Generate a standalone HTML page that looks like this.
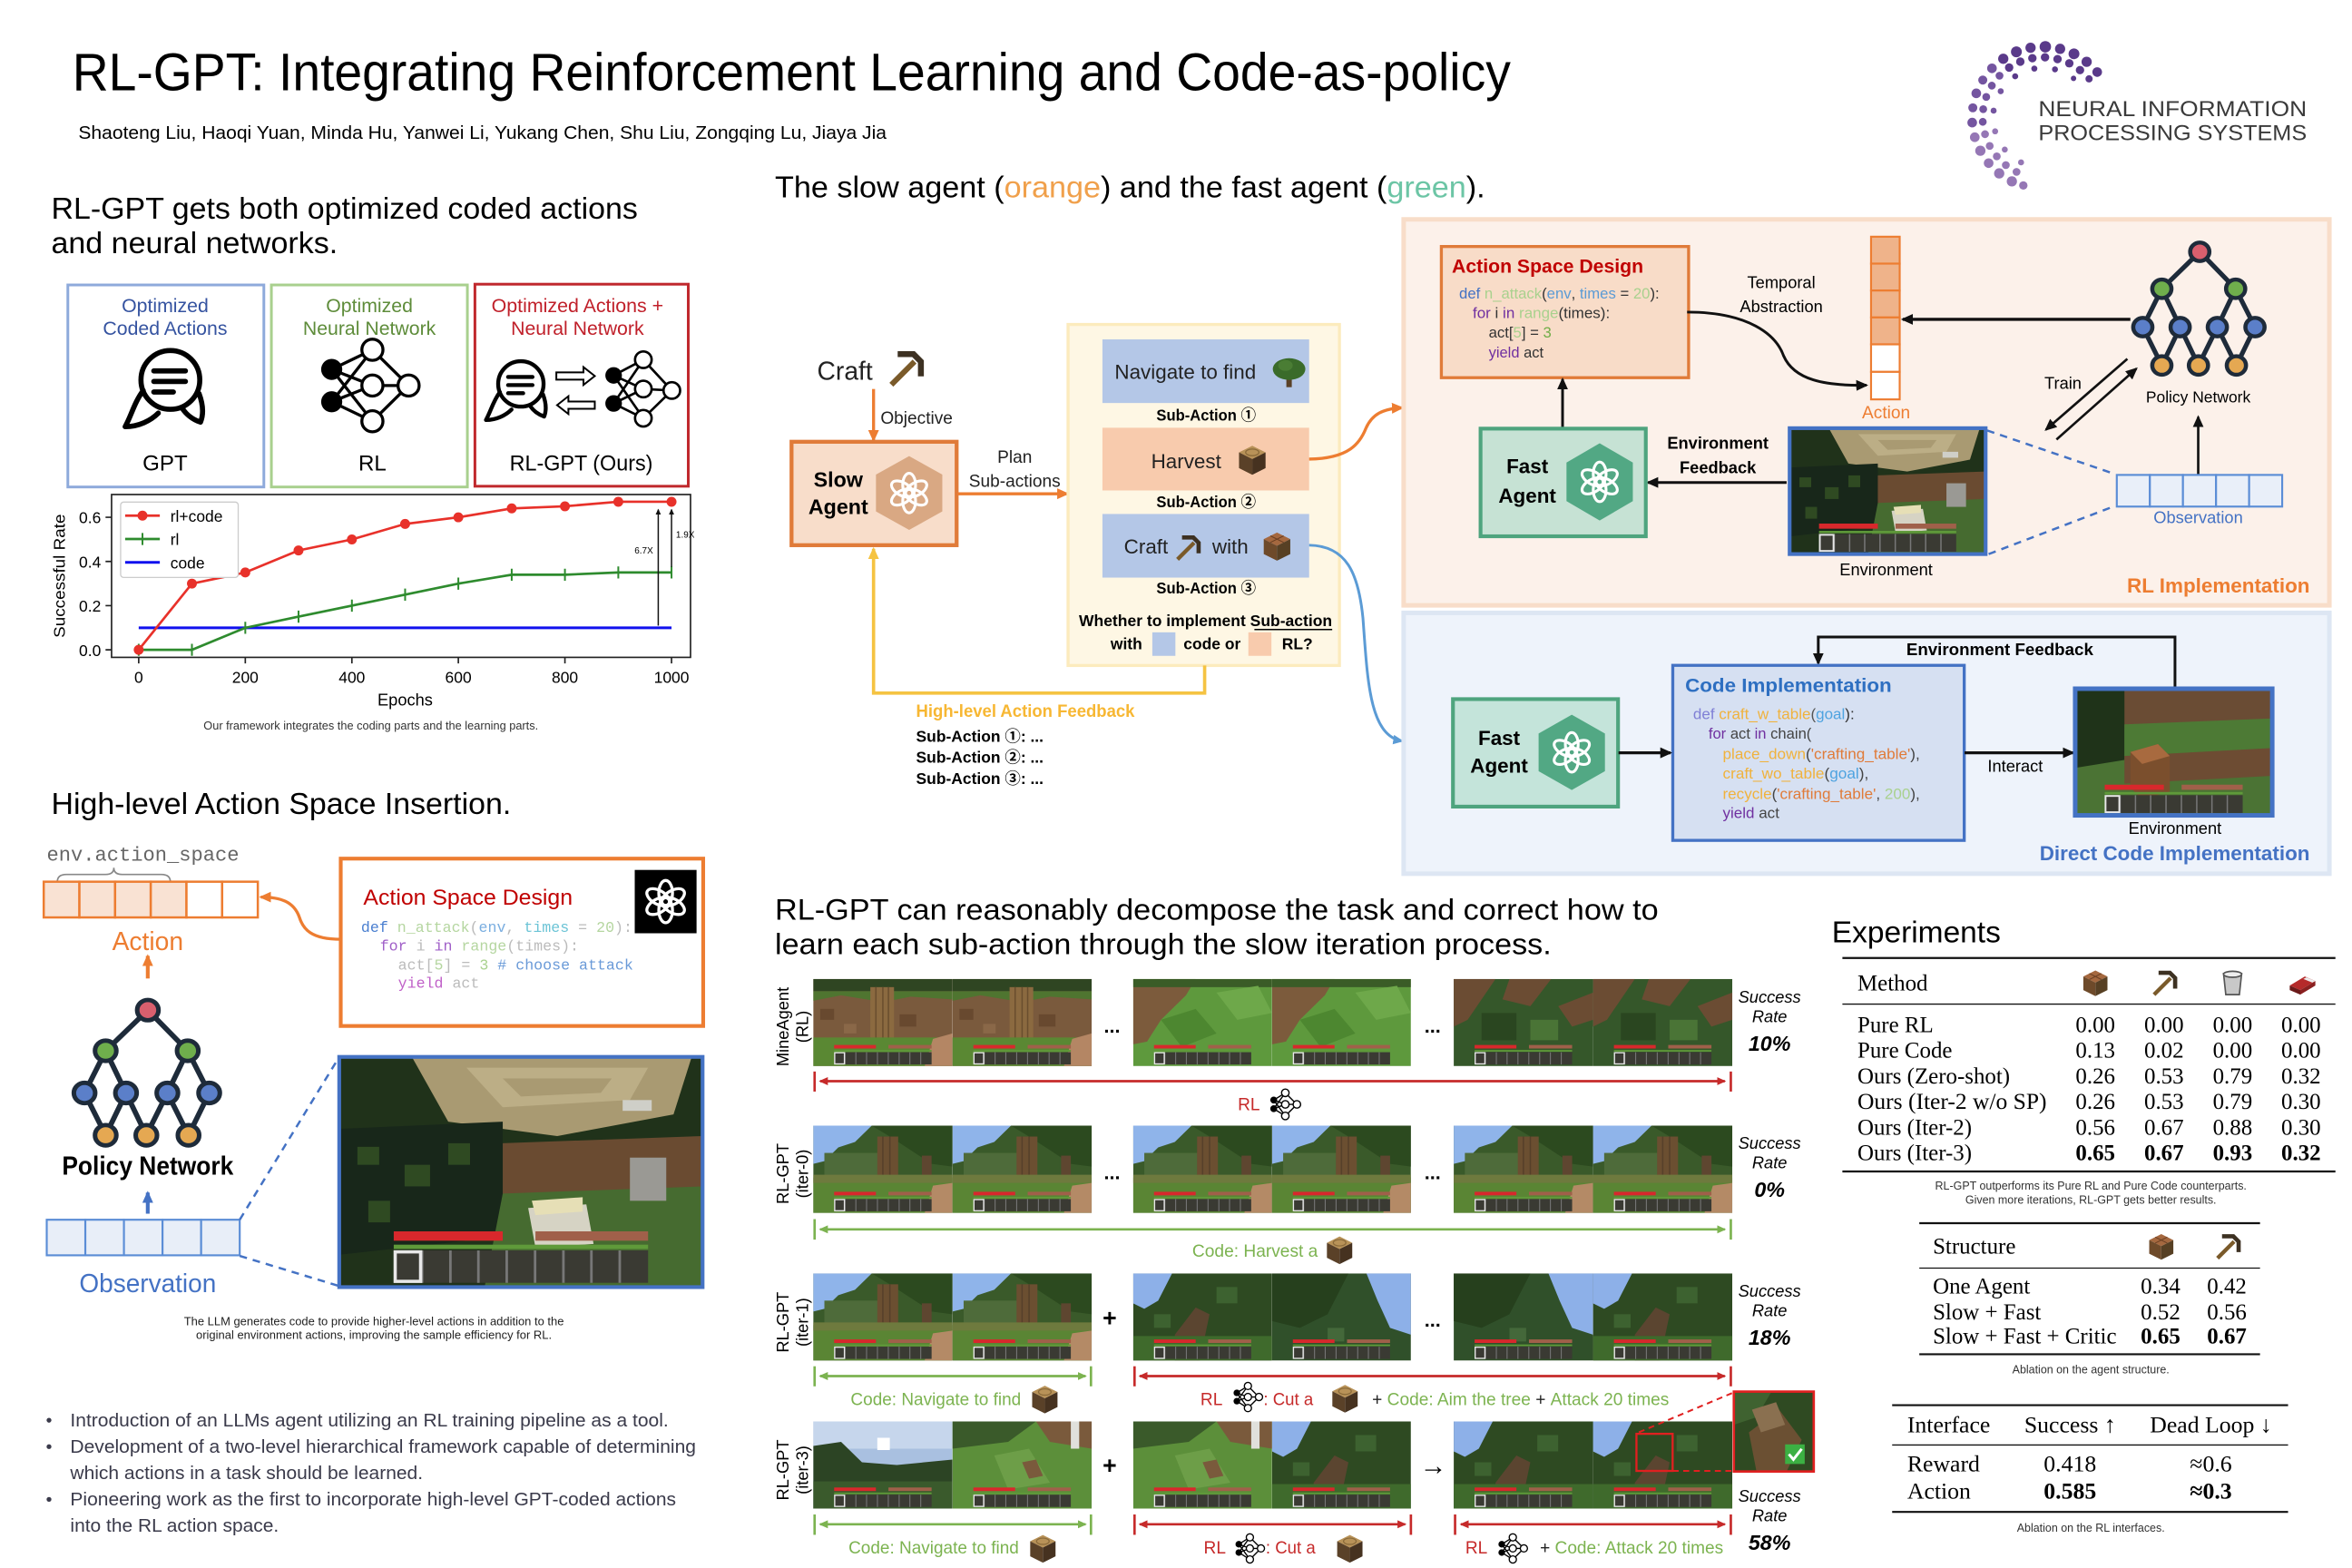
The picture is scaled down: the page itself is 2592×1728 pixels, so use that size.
<!DOCTYPE html>
<html><head><meta charset="utf-8">
<style>
html,body{margin:0;padding:0;background:#fff;width:2592px;height:1728px;overflow:hidden}
svg{display:block}
text{font-family:"Liberation Sans",Arial,"DejaVu Sans",sans-serif}
text.se,.se text{font-family:"Liberation Serif","Times New Roman",serif}
text.mo,.mo text{font-family:"Liberation Mono","DejaVu Sans Mono",monospace}
text.cj,.cj text{font-family:"Liberation Sans","Noto Sans CJK SC",sans-serif}
</style></head><body>
<svg width="2592" height="1728" viewBox="0 0 1560 1040" xmlns="http://www.w3.org/2000/svg">
<defs>
<marker id="ak" viewBox="0 0 10 10" refX="8.5" refY="5" markerWidth="8" markerHeight="8" markerUnits="userSpaceOnUse" orient="auto-start-reverse"><path d="M0,0.5 L10,5 L0,9.5 z" fill="#111"/></marker>
<marker id="as" viewBox="0 0 10 10" refX="8.5" refY="5" markerWidth="4" markerHeight="4" markerUnits="userSpaceOnUse" orient="auto-start-reverse"><path d="M0,0.5 L10,5 L0,9.5 z" fill="#111"/></marker>
<marker id="ao" viewBox="0 0 10 10" refX="8.5" refY="5" markerWidth="8" markerHeight="8" markerUnits="userSpaceOnUse" orient="auto-start-reverse"><path d="M0,0.5 L10,5 L0,9.5 z" fill="#ed7d31"/></marker>
<marker id="ay" viewBox="0 0 10 10" refX="8.5" refY="5" markerWidth="8" markerHeight="8" markerUnits="userSpaceOnUse" orient="auto-start-reverse"><path d="M0,0.5 L10,5 L0,9.5 z" fill="#f5c342"/></marker>
<marker id="abl" viewBox="0 0 10 10" refX="8.5" refY="5" markerWidth="7" markerHeight="7" markerUnits="userSpaceOnUse" orient="auto-start-reverse"><path d="M0,0.5 L10,5 L0,9.5 z" fill="#5b9bd5"/></marker>
<marker id="ab2" viewBox="0 0 10 10" refX="8.5" refY="5" markerWidth="8" markerHeight="8" markerUnits="userSpaceOnUse" orient="auto-start-reverse"><path d="M0,0.5 L10,5 L0,9.5 z" fill="#4472c4"/></marker>
<marker id="ar" viewBox="0 0 10 10" refX="8.5" refY="5" markerWidth="6" markerHeight="6" markerUnits="userSpaceOnUse" orient="auto-start-reverse"><path d="M0,0.5 L10,5 L0,9.5 z" fill="#c62a2a"/></marker>
<marker id="ag" viewBox="0 0 10 10" refX="8.5" refY="5" markerWidth="6" markerHeight="6" markerUnits="userSpaceOnUse" orient="auto-start-reverse"><path d="M0,0.5 L10,5 L0,9.5 z" fill="#7cb350"/></marker>

<symbol id="oai" viewBox="-12 -12 24 24">
<g fill="none" stroke="#fff" stroke-width="1.5">
<ellipse cx="0" cy="-4.3" rx="3.4" ry="6.2"/>
<ellipse cx="0" cy="-4.3" rx="3.4" ry="6.2" transform="rotate(60)"/>
<ellipse cx="0" cy="-4.3" rx="3.4" ry="6.2" transform="rotate(120)"/>
<ellipse cx="0" cy="-4.3" rx="3.4" ry="6.2" transform="rotate(180)"/>
<ellipse cx="0" cy="-4.3" rx="3.4" ry="6.2" transform="rotate(240)"/>
<ellipse cx="0" cy="-4.3" rx="3.4" ry="6.2" transform="rotate(300)"/>
</g></symbol>

<symbol id="nn" viewBox="0 0 24 24">
<path d="M4,9 L12,4 M4,9 L12,12 M4,9 L12,20 M4,15 L12,4 M4,15 L12,12 M4,15 L12,20 M12,4 L20,12 M12,12 L20,12 M12,20 L20,12" stroke="#000" stroke-width="0.9" fill="none"/>
<circle cx="4" cy="9" r="2.4" fill="#000"/><circle cx="4" cy="15" r="2.4" fill="#000"/>
<circle cx="12" cy="4" r="2.6" fill="#fff" stroke="#000" stroke-width=".9"/>
<circle cx="12" cy="12" r="2.6" fill="#fff" stroke="#000" stroke-width=".9"/>
<circle cx="12" cy="20" r="2.6" fill="#fff" stroke="#000" stroke-width=".9"/>
<circle cx="20" cy="12" r="2.6" fill="#fff" stroke="#000" stroke-width=".9"/>
</symbol>

<symbol id="chat" viewBox="0 0 57 58">
<g fill="none" stroke="#000" stroke-width="3.4" stroke-linecap="round" stroke-linejoin="round">
<circle cx="33" cy="24" r="19.5"/>
<path d="M15,31 C9,39 7,48 3,55 C12,55 20,51 25,46"/>
<path d="M52,33 C55,41 55,47 53,52 C47,50 43,46 41,43"/>
<path d="M22,18 H43 M22,25 H43 M22,32 H35"/>
</g></symbol>

<symbol id="pick" viewBox="0 0 20 20">
<path d="M3,18 L14,7" stroke="#7a5a2a" stroke-width="2.6"/>
<path d="M6,3.5 H13.5 L17,7 V14" fill="none" stroke="#3d3122" stroke-width="2.8"/>
</symbol>
<symbol id="log" viewBox="0 0 20 20">
<polygon points="10,1.5 18,5.5 10,9.5 2,5.5" fill="#b89258"/>
<ellipse cx="10" cy="5.5" rx="4" ry="2" fill="none" stroke="#8a6a3a" stroke-width=".7"/>
<polygon points="2,5.5 10,9.5 10,19 2,15" fill="#5a4128"/>
<polygon points="10,9.5 18,5.5 18,15 10,19" fill="#463220"/>
</symbol>
<symbol id="tbl" viewBox="0 0 20 20">
<polygon points="10,2 18,6 10,10 2,6" fill="#a5683f"/>
<path d="M6,4 L14,8 M14,4 L6,8" stroke="#6b3f22" stroke-width=".6"/>
<polygon points="2,6 10,10 10,19 2,15" fill="#6e4a2a"/>
<polygon points="10,10 18,6 18,15 10,19" fill="#574024"/>
</symbol>
<symbol id="tree" viewBox="0 0 20 20">
<rect x="8.5" y="12" width="3" height="7" fill="#5a4128"/>
<ellipse cx="10" cy="9" rx="9" ry="6" fill="#3a6b2a"/>
<ellipse cx="8" cy="7" rx="4" ry="3" fill="#4a7d34"/>
</symbol>
<symbol id="bkt" viewBox="0 0 20 20">
<path d="M4,4 H16 L14.5,18 H5.5z" fill="#c8c8c8" stroke="#555" stroke-width="1"/>
<ellipse cx="10" cy="4.5" rx="6" ry="2" fill="#eee" stroke="#555" stroke-width="1"/>
</symbol>
<symbol id="bed" viewBox="0 0 20 20">
<polygon points="2,12 12,6 19,9 9,15" fill="#b52a2a"/>
<polygon points="13,6.6 19,9 17,10 11,7.6" fill="#eee"/>
<polygon points="2,12 9,15 9,18 2,15" fill="#6b1a1a"/>
<polygon points="9,15 19,9 19,12 9,18" fill="#8a2020"/>
</symbol>

<symbol id="pn" viewBox="0 0 100 100" preserveAspectRatio="none">
<path d="M50.6,10 L24.9,36 M50.6,10 L74.9,36 M24.9,36 L12,63 M24.9,36 L37.3,63 M74.9,36 L62.5,63 M74.9,36 L88,63 M12,63 L24.9,90 M37.3,63 L24.9,90 M37.3,63 L49.7,90 M62.5,63 L49.7,90 M62.5,63 L75.4,90 M88,63 L75.4,90" stroke="#1e2b3a" stroke-width="3.2" fill="none"/>
<g stroke="#1e2b3a" stroke-width="2.8">
<circle cx="50.6" cy="10" r="6.5" fill="#d95f6e"/>
<circle cx="24.9" cy="36" r="6.5" fill="#6fae4c"/><circle cx="74.9" cy="36" r="6.5" fill="#6fae4c"/>
<circle cx="12" cy="63" r="6.5" fill="#5b7fc9"/><circle cx="37.3" cy="63" r="6.5" fill="#5b7fc9"/><circle cx="62.5" cy="63" r="6.5" fill="#5b7fc9"/><circle cx="88" cy="63" r="6.5" fill="#5b7fc9"/>
<circle cx="24.9" cy="90" r="6.5" fill="#e5a852"/><circle cx="49.7" cy="90" r="6.5" fill="#e5a852"/><circle cx="75.4" cy="90" r="6.5" fill="#e5a852"/>
</g></symbol>

<symbol id="hb" viewBox="0 0 100 64" preserveAspectRatio="none">
<rect x="15" y="48.5" width="30" height="2.6" fill="#d8282c"/>
<rect x="54" y="48.5" width="31" height="2.6" fill="#a0604a"/>
<rect x="15" y="52.2" width="70" height="1.2" fill="#5f9a3a"/>
<rect x="15" y="53.8" width="70" height="9" fill="#3a3a33"/>
<path d="M22.8,53.8V62.8M30.6,53.8V62.8M38.3,53.8V62.8M46.1,53.8V62.8M53.9,53.8V62.8M61.7,53.8V62.8M69.4,53.8V62.8M77.2,53.8V62.8" stroke="#777" stroke-width=".7"/>
<rect x="15.4" y="54.2" width="7" height="8.2" fill="none" stroke="#e8e8e8" stroke-width=".9"/>
</symbol>

<symbol id="s_dirt" viewBox="0 0 100 64" preserveAspectRatio="none">
<rect width="100" height="64" fill="#7a5a3d"/>
<rect width="100" height="9" fill="#2f4522"/>
<path d="M0,9 L100,9 L100,15 L70,13 L50,17 L20,12 L0,16z" fill="#4f7530"/>
<rect x="5" y="22" width="10" height="8" fill="#68492f"/>
<rect x="62" y="26" width="12" height="9" fill="#68492f"/>
<rect x="22" y="33" width="9" height="7" fill="#8a6848"/>
<rect x="41" y="6" width="17" height="42" fill="#8b6a40"/>
<path d="M45,6V48M50,6V48M54,6V48" stroke="#6a4e2e" stroke-width="1"/>
<rect x="0" y="43" width="100" height="21" fill="#5a8833"/>
<path d="M80,64 L86,44 L100,40 L100,64z" fill="#b48664"/>
<use href="#hb" width="100" height="64"/>
</symbol>
<symbol id="s_grass" viewBox="0 0 100 64" preserveAspectRatio="none">
<rect width="100" height="64" fill="#5e993d"/>
<path d="M0,0 H45 L38,12 L20,30 L10,46 L0,48z" fill="#7c5b3c"/>
<path d="M0,0 H100 V6 H0z" fill="#3a5c27"/>
<path d="M20,30 L45,22 L60,40 L35,50z" fill="#4d8730"/>
<path d="M60,10 L90,5 L100,25 L75,30z" fill="#6ea84a"/>
<use href="#hb" width="100" height="64"/>
</symbol>
<symbol id="s_leaves" viewBox="0 0 100 64" preserveAspectRatio="none">
<rect width="100" height="64" fill="#35572a"/>
<path d="M0,0 H30 L10,30 L0,35z" fill="#6b4c33"/>
<path d="M40,0 H70 L55,20 L35,15z" fill="#6b4c33"/>
<path d="M75,20 L100,10 L100,30 L85,35z" fill="#6b4c33"/>
<rect x="20" y="25" width="25" height="20" fill="#2a4620"/>
<rect x="55" y="30" width="20" height="15" fill="#4a7436"/>
<use href="#hb" width="100" height="64"/>
</symbol>
<symbol id="s_forest" viewBox="0 0 100 64" preserveAspectRatio="none">
<rect width="100" height="64" fill="#3a5a2a"/>
<path d="M0,0 L42,0 L30,12 L18,16 L8,26 L0,28z" fill="#8fb4ea"/>
<path d="M42,0 L100,0 L100,30 L85,28 L70,18 L55,8z" fill="#2c4a1f"/>
<rect x="8" y="20" width="40" height="18" fill="#4e6b3a"/>
<rect x="46" y="8" width="15" height="40" fill="#6b4f31"/>
<path d="M50,8V48M55,8V48" stroke="#56402a" stroke-width="1"/>
<rect x="78" y="22" width="7" height="24" fill="#5e4630"/>
<rect x="0" y="38" width="100" height="26" fill="#5a8534"/>
<rect x="0" y="36" width="100" height="6" fill="#6e7a3e"/>
<path d="M80,64 L86,44 L100,42 L100,64z" fill="#b48a66"/>
<use href="#hb" width="100" height="64"/>
</symbol>
<symbol id="s_can1" viewBox="0 0 100 64" preserveAspectRatio="none">
<rect width="100" height="64" fill="#2e4a22"/>
<path d="M0,0 H28 L18,20 L8,26 L0,22z" fill="#8db0e8"/>
<path d="M30,45 L45,25 L55,30 L48,64 H30z" fill="#5b4530"/>
<rect x="60" y="10" width="15" height="12" fill="#3d6230"/>
<rect x="15" y="30" width="12" height="10" fill="#3d6230"/>
<rect x="0" y="46" width="100" height="18" fill="#3f6a2c"/>
<use href="#hb" width="100" height="64"/>
</symbol>
<symbol id="s_can2" viewBox="0 0 100 64" preserveAspectRatio="none">
<rect width="100" height="64" fill="#30502a"/>
<path d="M0,0 H55 L40,30 L20,40 L0,35z" fill="#26401d"/>
<path d="M68,0 H100 V45 L85,40 L76,20z" fill="#8db0e8"/>
<rect x="40" y="40" width="12" height="10" fill="#44683a"/>
<use href="#hb" width="100" height="64"/>
</symbol>
<symbol id="s_sun" viewBox="0 0 100 64" preserveAspectRatio="none">
<rect width="100" height="64" fill="#a9c0e0"/>
<rect width="100" height="20" fill="#c6d6ec"/>
<rect x="46" y="12" width="9" height="9" fill="#ffffff"/>
<path d="M0,18 L20,15 L35,30 L60,32 L100,28 V64 H0z" fill="#2c4424"/>
<rect x="0" y="44" width="100" height="20" fill="#3a5a2c"/>
<use href="#hb" width="100" height="64"/>
</symbol>
<symbol id="s_hill" viewBox="0 0 100 64" preserveAspectRatio="none">
<rect width="100" height="64" fill="#5c8f3a"/>
<path d="M0,0 H60 L40,15 L0,20z" fill="#3a5a2a"/>
<path d="M60,0 H100 V20 L70,15z" fill="#7a5a3c"/>
<rect x="85" y="0" width="6" height="20" fill="#e0e0dc"/>
<path d="M30,25 L55,20 L70,45 L40,50z" fill="#6d9e48"/>
<path d="M50,30 L60,28 L65,40 L55,42z" fill="#7a5a3c"/>
<use href="#hb" width="100" height="64"/>
</symbol>
<symbol id="s_env" viewBox="0 0 100 64" preserveAspectRatio="none">
<rect width="100" height="64" fill="#20321a"/>
<path d="M20,0 H97 L92,16 L60,22 L30,18z" fill="#a99a72"/>
<path d="M35,3 H85 L80,12 L45,14z" fill="#bcae86"/>
<path d="M45,6 H75 L72,10 L50,11z" fill="#a99a72"/>
<rect x="78" y="12" width="8" height="3" fill="#cfcfc8"/>
<path d="M0,20 L45,18 L45,50 L0,55z" fill="#18271a"/>
<rect x="5" y="25" width="6" height="5" fill="#2f4a22"/><rect x="18" y="30" width="7" height="6" fill="#2f4a22"/>
<rect x="30" y="24" width="6" height="6" fill="#2f4a22"/><rect x="8" y="40" width="6" height="6" fill="#2f4a22"/>
<path d="M45,24 L100,22 V40 L45,42z" fill="#6a4b31"/>
<path d="M45,38 L100,36 V64 H40z" fill="#466b30"/>
<rect x="80" y="28" width="10" height="12" fill="#9a9994"/>
<path d="M52,42 L68,41 L70,52 L54,53z" fill="#d6d3c4"/>
<path d="M53,40 L67,39 L67,43 L54,44z" fill="#e6dfb6"/>
<use href="#hb" width="100" height="64"/>
</symbol>
<symbol id="s_envc" viewBox="0 0 100 64" preserveAspectRatio="none">
<rect width="100" height="64" fill="#4b7334"/>
<rect width="100" height="20" fill="#6a4c34"/>
<path d="M0,0 H25 V36 L0,40z" fill="#1f3319"/>
<path d="M25,18 L100,15 V30 L25,34z" fill="#4d7a35"/>
<path d="M25,34 L100,30 V44 L25,48z" fill="#6d4c33"/>
<path d="M28,32 L42,28 L48,34 L48,52 L34,56 L28,50z" fill="#7b4f2d"/>
<path d="M28,32 L42,28 L48,34 L34,38z" fill="#a86a3f"/>
<use href="#hb" width="100" height="64"/>
</symbol>
</defs>

<!-- ===== HEADER ===== -->
<text x="48" y="60" font-size="35" textLength="954" lengthAdjust="spacingAndGlyphs">RL-GPT: Integrating Reinforcement Learning and Code-as-policy</text>
<text x="52" y="92" font-size="12" textLength="536" lengthAdjust="spacingAndGlyphs">Shaoteng Liu, Haoqi Yuan, Minda Hu, Yanwei Li, Yukang Chen, Shu Liu, Zongqing Lu, Jiaya Jia</text>

<!-- NeurIPS logo -->
<g fill="#5a3a8a">
<circle cx="1391" cy="47.8" r="3.2"/><circle cx="1384" cy="41" r="3.4"/><circle cx="1375.6" cy="35.7" r="3.6"/><circle cx="1366.4" cy="32.4" r="3.4"/><circle cx="1356.6" cy="31" r="3.8"/><circle cx="1346.8" cy="31.7" r="3.4"/><circle cx="1337.4" cy="34.4" r="3.6"/><circle cx="1328.7" cy="39" r="3.4"/>
<circle cx="1385.6" cy="52.3" r="2.4"/><circle cx="1379.6" cy="46.5" r="2.8"/><circle cx="1372.5" cy="42" r="2.8"/><circle cx="1364.7" cy="39.2" r="2.8"/><circle cx="1356.4" cy="38" r="2.8"/><circle cx="1348" cy="38.6" r="2.8"/><circle cx="1340" cy="40.9" r="2.8"/><circle cx="1332.6" cy="44.8" r="2.8"/>
<circle cx="1375.3" cy="52" r="1.8"/><circle cx="1363" cy="46" r="2"/><circle cx="1349.3" cy="45.5" r="2"/><circle cx="1336.6" cy="50.6" r="2"/>
</g>
<g fill="#7455a0">
<circle cx="1321.2" cy="45.3" r="3.2"/><circle cx="1315.1" cy="53.1" r="3"/><circle cx="1310.8" cy="61.9" r="3.2"/><circle cx="1308.5" cy="71.5" r="3"/><circle cx="1308.1" cy="81.3" r="3.2"/>
<circle cx="1326.2" cy="50.2" r="2.6"/><circle cx="1321.1" cy="56.8" r="2.6"/><circle cx="1317.4" cy="64.3" r="2.6"/><circle cx="1315.4" cy="72.4" r="2.6"/><circle cx="1315.1" cy="80.8" r="2.6"/>
<circle cx="1327" cy="60.5" r="2"/><circle cx="1322.3" cy="73.4" r="2"/>
</g>
<g fill="#9577b5">
<circle cx="1309.8" cy="91" r="3.2"/><circle cx="1313.5" cy="100" r="3.4"/><circle cx="1319" cy="108.2" r="3.2"/><circle cx="1326" cy="115" r="3.4"/><circle cx="1334.4" cy="120.3" r="3.4"/><circle cx="1342" cy="123" r="2.8"/>
<circle cx="1316.6" cy="89" r="2.6"/><circle cx="1319.7" cy="96.8" r="2.6"/><circle cx="1324.4" cy="103.7" r="2.6"/><circle cx="1330.4" cy="109.5" r="2.6"/><circle cx="1337.5" cy="114" r="2.6"/>
<circle cx="1323.3" cy="87.1" r="2"/><circle cx="1329.7" cy="99.2" r="2"/><circle cx="1340.5" cy="107.7" r="2"/>
</g>
<text x="1352" y="77" font-size="14.5" fill="#3a3a3a" textLength="178" lengthAdjust="spacingAndGlyphs">NEURAL INFORMATION</text>
<text x="1352" y="93" font-size="14.5" fill="#3a3a3a" textLength="178" lengthAdjust="spacingAndGlyphs">PROCESSING SYSTEMS</text>

<!-- ===== LEFT TOP ===== -->
<text x="34" y="145" font-size="20" textLength="389" lengthAdjust="spacingAndGlyphs">RL-GPT gets both optimized coded actions</text>
<text x="34" y="168" font-size="20" textLength="190" lengthAdjust="spacingAndGlyphs">and neural networks.</text>

<rect x="45" y="189" width="130" height="134" fill="none" stroke="#8eaadb" stroke-width="1.8"/>
<rect x="180" y="189" width="130" height="134" fill="none" stroke="#a9d08e" stroke-width="1.8"/>
<rect x="315" y="188.5" width="141.5" height="134" fill="none" stroke="#c0282d" stroke-width="1.8"/>
<g font-size="12.8" text-anchor="middle">
<text x="109.5" y="207" fill="#3553a0">Optimized</text>
<text x="109.5" y="222" fill="#3553a0">Coded Actions</text>
<text x="245" y="207" fill="#5e8c3a">Optimized</text>
<text x="245" y="222" fill="#5e8c3a">Neural Network</text>
<text x="383" y="207" fill="#c0202a" textLength="114" lengthAdjust="spacingAndGlyphs">Optimized Actions +</text>
<text x="383" y="222" fill="#c0202a">Neural Network</text>
</g>
<g font-size="14.5" text-anchor="middle">
<text x="109.5" y="312">GPT</text>
<text x="247" y="312">RL</text>
<text x="385.5" y="312" textLength="95" lengthAdjust="spacingAndGlyphs">RL-GPT (Ours)</text>
</g>
<use href="#chat" x="80" y="228" width="57" height="58"/>
<!-- green NN -->
<g stroke="#000" stroke-width="2" fill="none">
<path d="M220,245 L247,232 M220,245 L247,255.7 M220,245 L247,279.4 M220,266.5 L247,232 M220,266.5 L247,255.7 M220,266.5 L247,279.4 M247,232 L271,255.7 M247,255.7 L271,255.7 M247,279.4 L271,255.7"/>
</g>
<circle cx="220" cy="245" r="7" fill="#000"/><circle cx="220" cy="266.5" r="7" fill="#000"/>
<g fill="#fff" stroke="#000" stroke-width="2"><circle cx="247" cy="232" r="7"/><circle cx="247" cy="255.7" r="7"/><circle cx="247" cy="279.4" r="7"/><circle cx="271" cy="255.7" r="7"/></g>
<!-- red box icons -->
<use href="#chat" x="320" y="236" width="44" height="45"/>
<path d="M369,247 H387 V243.5 L394.5,249.4 L387,255.3 V251.8 H369z" fill="#fff" stroke="#000" stroke-width="1.2"/>
<path d="M394.5,266.3 H377 V262.8 L369.5,268.7 L377,274.6 V271.1 H394.5z" fill="#fff" stroke="#000" stroke-width="1.2"/>
<g stroke="#000" stroke-width="1.6" fill="none">
<path d="M407,249 L426.7,238.6 M407,249 L426.7,258 M407,249 L426.7,277.4 M407,267.6 L426.7,238.6 M407,267.6 L426.7,258 M407,267.6 L426.7,277.4 M426.7,238.6 L445.6,259 M426.7,258 L445.6,259 M426.7,277.4 L445.6,259"/>
</g>
<circle cx="407" cy="249" r="5.5" fill="#000"/><circle cx="407" cy="267.6" r="5.5" fill="#000"/>
<g fill="#fff" stroke="#000" stroke-width="1.6"><circle cx="426.7" cy="238.6" r="5.5"/><circle cx="426.7" cy="258" r="5.5"/><circle cx="426.7" cy="277.4" r="5.5"/><circle cx="445.6" cy="259" r="5.5"/></g>

<!-- ===== CHART ===== -->
<rect x="74" y="328" width="384" height="108" fill="#fff" stroke="#222" stroke-width="1"/>
<g stroke="#222" stroke-width="1">
<path d="M74,431 H70 M74,401.7 H70 M74,372.4 H70 M74,343.1 H70"/>
<path d="M92,436 V440 M162.7,436 V440 M233.4,436 V440 M304,436 V440 M374.7,436 V440 M445.4,436 V440"/>
</g>
<g font-size="10.5" text-anchor="end">
<text x="67" y="435">0.0</text><text x="67" y="405.7">0.2</text><text x="67" y="376.4">0.4</text><text x="67" y="347.1">0.6</text>
</g>
<g font-size="10.5" text-anchor="middle">
<text x="92" y="453">0</text><text x="162.7" y="453">200</text><text x="233.4" y="453">400</text><text x="304" y="453">600</text><text x="374.7" y="453">800</text><text x="445.4" y="453">1000</text>
</g>
<text x="268.7" y="468" font-size="11" text-anchor="middle">Epochs</text>
<text transform="translate(43,382) rotate(-90)" font-size="10.5" text-anchor="middle" textLength="82" lengthAdjust="spacingAndGlyphs">Successful Rate</text>
<line x1="92" y1="416.4" x2="445.4" y2="416.4" stroke="#1010ee" stroke-width="1.8"/>
<polyline points="92,431 127.3,431 162.7,416.4 198,409 233.4,401.7 268.7,394.4 304,387.1 339.4,381.2 374.7,381.2 410.1,379.7 445.4,379.7" fill="none" stroke="#2e8b2e" stroke-width="1.6"/>
<g stroke="#2e8b2e" stroke-width="1.2"><path d="M92,427V435M127.3,427V435M162.7,412.4V420.4M198,405V413M233.4,397.7V405.7M268.7,390.4V398.4M304,383.1V391.1M339.4,377.2V385.2M374.7,377.2V385.2M410.1,375.7V383.7M445.4,375.7V383.7"/></g>
<polyline points="92,431 127.3,387.1 162.7,379.7 198,365.1 233.4,357.8 268.7,347.5 304,343.1 339.4,337.2 374.7,335.8 410.1,332.8 445.4,332.8" fill="none" stroke="#e8312a" stroke-width="1.6"/>
<g fill="#e8312a"><circle cx="92" cy="431" r="3.3"/><circle cx="127.3" cy="387.1" r="3.3"/><circle cx="162.7" cy="379.7" r="3.3"/><circle cx="198" cy="365.1" r="3.3"/><circle cx="233.4" cy="357.8" r="3.3"/><circle cx="268.7" cy="347.5" r="3.3"/><circle cx="304" cy="343.1" r="3.3"/><circle cx="339.4" cy="337.2" r="3.3"/><circle cx="374.7" cy="335.8" r="3.3"/><circle cx="410.1" cy="332.8" r="3.3"/><circle cx="445.4" cy="332.8" r="3.3"/></g>
<line x1="436.6" y1="415" x2="436.6" y2="338" stroke="#111" stroke-width="0.9" marker-end="url(#as)"/>
<line x1="445.4" y1="376" x2="445.4" y2="338" stroke="#111" stroke-width="0.9" marker-end="url(#as)"/>
<text x="427" y="367" font-size="6" text-anchor="middle">6.7X</text>
<text x="454.5" y="356.5" font-size="6" text-anchor="middle">1.9X</text>
<rect x="80" y="333" width="78" height="50" fill="#fff" stroke="#ccc" stroke-width="0.8" rx="2"/>
<line x1="83" y1="342" x2="106" y2="342" stroke="#e8312a" stroke-width="1.6"/><circle cx="94.5" cy="342" r="3.3" fill="#e8312a"/>
<line x1="83" y1="357.5" x2="106" y2="357.5" stroke="#2e8b2e" stroke-width="1.6"/><line x1="94.5" y1="353.5" x2="94.5" y2="361.5" stroke="#2e8b2e" stroke-width="1.2"/>
<line x1="83" y1="373" x2="106" y2="373" stroke="#1010ee" stroke-width="1.8"/>
<g font-size="10.5"><text x="113" y="346">rl+code</text><text x="113" y="361.5">rl</text><text x="113" y="377">code</text></g>
<text x="246" y="484" font-size="7.5" fill="#333" text-anchor="middle" textLength="222" lengthAdjust="spacingAndGlyphs">Our framework integrates the coding parts and the learning parts.</text>

<!-- ===== LEFT BOTTOM ===== -->
<text x="34" y="540" font-size="20" textLength="305" lengthAdjust="spacingAndGlyphs">High-level Action Space Insertion.</text>
<text x="31" y="571" class="mo" font-size="13.5" fill="#666" textLength="127.6" lengthAdjust="spacingAndGlyphs">env.action_space</text>
<path d="M38,585 Q38,580 44,580 L70,580 Q75.5,580 75.5,575.5 Q75.5,580 81,580 L107,580 Q113,580 113,585" fill="none" stroke="#888" stroke-width="1"/>
<g stroke="#ed7d31" stroke-width="1.5">
<rect x="29" y="584.8" width="23.67" height="23.7" fill="#f9e2d3"/><rect x="52.67" y="584.8" width="23.67" height="23.7" fill="#f9e2d3"/><rect x="76.33" y="584.8" width="23.67" height="23.7" fill="#f9e2d3"/><rect x="100" y="584.8" width="23.67" height="23.7" fill="#f9e2d3"/><rect x="123.67" y="584.8" width="23.67" height="23.7" fill="#fff"/><rect x="147.33" y="584.8" width="23.67" height="23.7" fill="#fff"/>
</g>
<text x="98" y="630" font-size="17" fill="#ed7d31" text-anchor="middle">Action</text>
<line x1="98" y1="649" x2="98" y2="634" stroke="#ed7d31" stroke-width="2.5" marker-end="url(#ao)"/>
<use href="#pn" x="43" y="659.6" width="108.8" height="103.75"/>
<text x="98" y="779" font-size="17" font-weight="bold" text-anchor="middle" textLength="113.7" lengthAdjust="spacingAndGlyphs">Policy Network</text>
<line x1="98" y1="805" x2="98" y2="791" stroke="#4472c4" stroke-width="2.5" marker-end="url(#ab2)"/>
<g stroke="#5b8dd6" stroke-width="1.3" fill="#e8eef8">
<rect x="31" y="809" width="25.6" height="23.6"/><rect x="56.6" y="809" width="25.6" height="23.6"/><rect x="82.2" y="809" width="25.6" height="23.6"/><rect x="107.8" y="809" width="25.6" height="23.6"/><rect x="133.4" y="809" width="25.6" height="23.6"/>
</g>
<text x="98" y="857" font-size="17" fill="#4472c4" text-anchor="middle" textLength="90.8" lengthAdjust="spacingAndGlyphs">Observation</text>

<rect x="226" y="569.5" width="240.4" height="111" fill="#fff" stroke="#ed7d31" stroke-width="2.5"/>
<text x="241" y="600" font-size="14.5" fill="#c00000" textLength="138.8" lengthAdjust="spacingAndGlyphs">Action Space Design</text>
<g class="mo" font-size="10">
<text x="239.5" y="618"><tspan fill="#4a7fd0">def</tspan><tspan fill="#bbb"> </tspan><tspan fill="#b5d6a0">n_attack</tspan><tspan fill="#bbb">(</tspan><tspan fill="#7aaee0">env</tspan><tspan fill="#bbb">, </tspan><tspan fill="#6cc4d6">times</tspan><tspan fill="#bbb"> = </tspan><tspan fill="#b5d6a0">20</tspan><tspan fill="#bbb">):</tspan></text>
<text x="252" y="630.5"><tspan fill="#a060c8">for</tspan><tspan fill="#bbb"> i </tspan><tspan fill="#a060c8">in</tspan><tspan fill="#bbb"> </tspan><tspan fill="#b5d6a0">range</tspan><tspan fill="#bbb">(times):</tspan></text>
<text x="264" y="643"><tspan fill="#bbb">act[</tspan><tspan fill="#b5d6a0">5</tspan><tspan fill="#bbb">] = </tspan><tspan fill="#a9d18e">3</tspan><tspan fill="#6a9ad8"> # choose attack</tspan></text>
<text x="264" y="655"><tspan fill="#c060c8">yield</tspan><tspan fill="#bbb"> act</tspan></text>
</g>
<rect x="421" y="577" width="41" height="42" fill="#000"/>
<use href="#oai" x="425.5" y="582" width="32" height="32"/>
<path d="M226,623 C206,623 201,616 198.6,608.5 C195,598 186,595 173,595" fill="none" stroke="#ed7d31" stroke-width="2" marker-end="url(#ao)"/>
<use href="#s_env" x="225" y="701" width="241" height="152.7"/>
<rect x="225" y="701" width="241" height="152.7" fill="none" stroke="#4472c4" stroke-width="2.5"/>
<line x1="159" y1="809" x2="225" y2="701" stroke="#4472c4" stroke-width="1.5" stroke-dasharray="5,4"/>
<line x1="159" y1="833" x2="225" y2="853" stroke="#4472c4" stroke-width="1.5" stroke-dasharray="5,4"/>
<text x="248" y="879" font-size="7.8" fill="#222" text-anchor="middle" textLength="252" lengthAdjust="spacingAndGlyphs">The LLM generates code to provide higher-level actions in addition to the</text>
<text x="248" y="888" font-size="7.8" fill="#222" text-anchor="middle" textLength="236" lengthAdjust="spacingAndGlyphs">original environment actions, improving the sample efficiency for RL.</text>

<g font-size="12" fill="#3a3a4a">
<circle cx="32.5" cy="942" r="1.6"/><circle cx="32.5" cy="959.5" r="1.6"/><circle cx="32.5" cy="994.5" r="1.6"/>
<text x="46.6" y="946" textLength="396.8" lengthAdjust="spacingAndGlyphs">Introduction of an LLMs agent utilizing an RL training pipeline as a tool.</text>
<text x="46.6" y="963.5" textLength="415" lengthAdjust="spacingAndGlyphs">Development of a two-level hierarchical framework capable of determining</text>
<text x="46.6" y="981" textLength="233.9" lengthAdjust="spacingAndGlyphs">which actions in a task should be learned.</text>
<text x="46.6" y="998.5" textLength="401.8" lengthAdjust="spacingAndGlyphs">Pioneering work as the first to incorporate high-level GPT-coded actions</text>
<text x="46.6" y="1016" textLength="138.3" lengthAdjust="spacingAndGlyphs">into the RL action space.</text>
</g>

<!-- ===== SLOW AGENT DIAGRAM ===== -->
<text x="514" y="131" font-size="20" textLength="471" lengthAdjust="spacingAndGlyphs">The slow agent (<tspan fill="#f0a04b">orange</tspan>) and the fast agent (<tspan fill="#6cc5a5">green</tspan>).</text>

<text x="542" y="252" font-size="17" fill="#222">Craft</text>
<use href="#pick" x="587" y="230" width="28" height="28"/>
<line x1="579.4" y1="258" x2="579.4" y2="292" stroke="#ed7d31" stroke-width="2" marker-end="url(#ao)"/>
<text x="584" y="281" font-size="11.5" fill="#222">Objective</text>
<rect x="525" y="293" width="109.5" height="68.6" fill="#f8ddca" stroke="#e07b39" stroke-width="2.6"/>
<text x="556" y="323" font-size="14" font-weight="bold" text-anchor="middle">Slow</text>
<text x="556" y="341" font-size="14" font-weight="bold" text-anchor="middle">Agent</text>
<polygon points="603,302.5 625,314.8 625,339.2 603,351.5 581,339.2 581,314.8" fill="#d9a883"/>
<use href="#oai" x="588" y="312" width="30" height="30"/>
<line x1="635" y1="327.5" x2="708" y2="327.5" stroke="#ed7d31" stroke-width="2" marker-end="url(#ao)"/>
<text x="673" y="307" font-size="11.5" text-anchor="middle" fill="#222">Plan</text>
<text x="673" y="323" font-size="11.5" text-anchor="middle" fill="#222">Sub-actions</text>

<rect x="708.4" y="215.2" width="180" height="226.2" fill="#fef7e4" stroke="#fcebbd" stroke-width="2"/>
<rect x="731.2" y="225.1" width="137.1" height="42.2" fill="#b4c7e7"/>
<text x="739.3" y="251.4" font-size="13.5" fill="#222">Navigate to find</text>
<use href="#tree" x="843" y="234" width="24" height="24"/>
<text x="800" y="279" class="cj" font-size="10.5" font-weight="bold" text-anchor="middle" textLength="66" lengthAdjust="spacingAndGlyphs">Sub-Action ①</text>
<rect x="731.2" y="283.7" width="137.1" height="41.6" fill="#f8cbad"/>
<text x="763.5" y="310.5" font-size="13.5" fill="#222">Harvest</text>
<use href="#log" x="819.6" y="294" width="22" height="22"/>
<text x="800" y="336.5" class="cj" font-size="10.5" font-weight="bold" text-anchor="middle" textLength="66" lengthAdjust="spacingAndGlyphs">Sub-Action ②</text>
<rect x="731.2" y="340.9" width="137.1" height="42.2" fill="#b4c7e7"/>
<text x="745.5" y="367" font-size="13.5" fill="#222">Craft</text>
<use href="#pick" x="778" y="353" width="20" height="20"/>
<text x="804" y="367" font-size="13.5" fill="#222">with</text>
<use href="#tbl" x="836" y="351" width="22" height="22"/>
<text x="800" y="393.5" class="cj" font-size="10.5" font-weight="bold" text-anchor="middle" textLength="66" lengthAdjust="spacingAndGlyphs">Sub-Action ③</text>
<text x="715.6" y="415.3" font-size="10.5" font-weight="bold" textLength="168" lengthAdjust="spacingAndGlyphs">Whether to implement Sub-action</text>
<line x1="832" y1="417.5" x2="883.6" y2="417.5" stroke="#000" stroke-width="0.9"/>
<text x="736.6" y="430.7" font-size="10.5" font-weight="bold">with</text>
<rect x="764.3" y="419.4" width="15.3" height="15.6" fill="#b4c7e7"/>
<text x="785" y="430.7" font-size="10.5" font-weight="bold">code or</text>
<rect x="828" y="419.4" width="15.3" height="15.6" fill="#f8cbad"/>
<text x="850.3" y="430.7" font-size="10.5" font-weight="bold">RL?</text>

<polyline points="799,441.4 799,459.7 579.4,459.7 579.4,364" fill="none" stroke="#f5c342" stroke-width="2.2" marker-end="url(#ay)"/>
<text x="607.6" y="475.5" font-size="11.5" font-weight="bold" fill="#f7b733" textLength="145" lengthAdjust="spacingAndGlyphs">High-level Action Feedback</text>
<g class="cj" font-size="10.5" font-weight="bold">
<text x="607.6" y="492">Sub-Action ①: ...</text>
<text x="607.6" y="506">Sub-Action ②: ...</text>
<text x="607.6" y="520">Sub-Action ③: ...</text>
</g>
<path d="M868.3,304.5 C895,304 902,294 906,284 C910,275 917,271 930,270.5" fill="none" stroke="#ed7d31" stroke-width="2" marker-end="url(#ao)"/>
<path d="M868.3,361.6 C893,362 901,380 904,410 C907,450 908,488 930,491.5" fill="none" stroke="#5b9bd5" stroke-width="1.8" marker-end="url(#abl)"/>

<!-- ===== RL IMPLEMENTATION PANEL ===== -->
<rect x="931" y="145.5" width="614" height="256" fill="#fcf1ea" stroke="#f8ddc9" stroke-width="3"/>
<rect x="956" y="163.5" width="164" height="87" fill="#f8dcc8" stroke="#e07b39" stroke-width="2"/>
<text x="963" y="181" font-size="13" font-weight="bold" fill="#c00000" textLength="127" lengthAdjust="spacingAndGlyphs">Action Space Design</text>
<g font-size="10">
<text x="967.8" y="198" textLength="132.8" lengthAdjust="spacingAndGlyphs"><tspan fill="#4472c4">def</tspan> <tspan fill="#a9d18e">n_attack</tspan><tspan fill="#333">(</tspan><tspan fill="#5b9bd5">env</tspan><tspan fill="#333">, </tspan><tspan fill="#5b9bd5">times</tspan><tspan fill="#333"> = </tspan><tspan fill="#a9d18e">20</tspan><tspan fill="#333">):</tspan></text>
<text x="976.8" y="211" textLength="91" lengthAdjust="spacingAndGlyphs"><tspan fill="#7030a0">for</tspan><tspan fill="#333"> i </tspan><tspan fill="#7030a0">in</tspan> <tspan fill="#a9d18e">range</tspan><tspan fill="#333">(times):</tspan></text>
<text x="987.4" y="224" textLength="41.7" lengthAdjust="spacingAndGlyphs"><tspan fill="#333">act[</tspan><tspan fill="#a9d18e">5</tspan><tspan fill="#333">] = </tspan><tspan fill="#70ad47">3</tspan></text>
<text x="987.4" y="237" textLength="36.4" lengthAdjust="spacingAndGlyphs"><tspan fill="#7030a0">yield</tspan><tspan fill="#333"> act</tspan></text>
</g>
<line x1="1036.4" y1="284" x2="1036.4" y2="251.5" stroke="#111" stroke-width="1.8" marker-end="url(#ak)"/>
<text x="1181.5" y="191" font-size="11" text-anchor="middle">Temporal</text>
<text x="1181.5" y="207" font-size="11" text-anchor="middle">Abstraction</text>
<path d="M1119,207 C1160,207 1178,222 1183,236 C1190,252 1210,256 1238,255.5" fill="none" stroke="#111" stroke-width="1.8" marker-end="url(#ak)"/>
<g stroke="#ed7d31" stroke-width="1.3">
<rect x="1241" y="157" width="19" height="17.85" fill="#efb38a"/><rect x="1241" y="174.85" width="19" height="17.85" fill="#efb38a"/><rect x="1241" y="192.7" width="19" height="17.85" fill="#efb38a"/><rect x="1241" y="210.55" width="19" height="17.85" fill="#efb38a"/><rect x="1241" y="228.4" width="19" height="18.25" fill="#fff"/><rect x="1241" y="246.65" width="19" height="18.25" fill="#fff"/>
</g>
<text x="1251" y="277.5" font-size="11.5" fill="#ed7d31" text-anchor="middle">Action</text>
<line x1="1413" y1="211.8" x2="1262" y2="211.8" stroke="#111" stroke-width="2" marker-end="url(#ak)"/>
<use href="#pn" x="1409.5" y="157.6" width="97.9" height="94.25"/>
<text x="1458" y="267" font-size="10.5" text-anchor="middle">Policy Network</text>
<line x1="1411" y1="238" x2="1357" y2="285" stroke="#111" stroke-width="1.6" marker-end="url(#ak)"/>
<line x1="1364" y1="291.5" x2="1417" y2="244.5" stroke="#111" stroke-width="1.6" marker-end="url(#ak)"/>
<text x="1356" y="258" font-size="11">Train</text>
<line x1="1458" y1="314.5" x2="1458" y2="276.5" stroke="#111" stroke-width="1.6" marker-end="url(#ak)"/>
<g stroke="#5b8dd6" stroke-width="1.3" fill="#e9eff9">
<rect x="1404" y="315" width="21.94" height="21"/><rect x="1425.94" y="315" width="21.94" height="21"/><rect x="1447.88" y="315" width="21.94" height="21"/><rect x="1469.82" y="315" width="21.94" height="21"/><rect x="1491.76" y="315" width="21.94" height="21"/>
</g>
<text x="1458" y="347" font-size="11" fill="#4472c4" text-anchor="middle">Observation</text>
<use href="#s_env" x="1187" y="284" width="130" height="83.5"/>
<rect x="1187" y="284" width="130" height="83.5" fill="none" stroke="#4472c4" stroke-width="2.5"/>
<text x="1251" y="381.5" font-size="11" text-anchor="middle">Environment</text>
<line x1="1318" y1="285.5" x2="1403" y2="314.5" stroke="#4472c4" stroke-width="1.5" stroke-dasharray="5,4"/>
<line x1="1319" y1="367.5" x2="1403" y2="335.5" stroke="#4472c4" stroke-width="1.5" stroke-dasharray="5,4"/>
<text x="1139.4" y="297.5" font-size="11" font-weight="bold" text-anchor="middle">Environment</text>
<text x="1139.4" y="314" font-size="11" font-weight="bold" text-anchor="middle">Feedback</text>
<line x1="1185" y1="320" x2="1093" y2="320" stroke="#111" stroke-width="1.8" marker-end="url(#ak)"/>
<rect x="982" y="284.3" width="109.6" height="71.4" fill="#c6e2d4" stroke="#4ea47e" stroke-width="2.5"/>
<text x="1013" y="314" font-size="13.5" font-weight="bold" text-anchor="middle">Fast</text>
<text x="1013" y="333.5" font-size="13.5" font-weight="bold" text-anchor="middle">Agent</text>
<polygon points="1061,294 1083,306.8 1083,332.4 1061,345.2 1039,332.4 1039,306.8" fill="#52a884"/>
<use href="#oai" x="1046" y="304.6" width="30" height="30"/>
<text x="1532" y="393" font-size="13.5" font-weight="bold" fill="#ed7d31" text-anchor="end">RL Implementation</text>

<!-- ===== DIRECT CODE PANEL ===== -->
<rect x="931" y="406.5" width="614" height="173" fill="#eef3fb" stroke="#dde6f3" stroke-width="3"/>
<polyline points="1442.6,457 1442.6,422.5 1206,422.5 1206,440" fill="none" stroke="#111" stroke-width="1.8" marker-end="url(#ak)"/>
<text x="1264.4" y="434.5" font-size="11" font-weight="bold" textLength="124" lengthAdjust="spacingAndGlyphs">Environment Feedback</text>
<rect x="1109.5" y="441.3" width="193.3" height="116.1" fill="#d6e0f2" stroke="#4472c4" stroke-width="2"/>
<text x="1117.7" y="459" font-size="13" font-weight="bold" fill="#2e6fc1" textLength="137" lengthAdjust="spacingAndGlyphs">Code Implementation</text>
<g font-size="10">
<text x="1123" y="477" textLength="107" lengthAdjust="spacingAndGlyphs"><tspan fill="#7f7fd5">def</tspan> <tspan fill="#f0b23c">craft_w_table</tspan><tspan fill="#555">(</tspan><tspan fill="#4ea3e0">goal</tspan><tspan fill="#333">):</tspan></text>
<text x="1133.2" y="490" textLength="68.3" lengthAdjust="spacingAndGlyphs"><tspan fill="#7030a0">for</tspan><tspan fill="#444"> act </tspan><tspan fill="#7030a0">in</tspan><tspan fill="#444"> chain(</tspan></text>
<text x="1142.6" y="503.5" textLength="130.8" lengthAdjust="spacingAndGlyphs"><tspan fill="#f0b23c">place_down</tspan><tspan fill="#444">(</tspan><tspan fill="#e07b39">'crafting_table'</tspan><tspan fill="#444">),</tspan></text>
<text x="1142.6" y="516.5" textLength="96.8" lengthAdjust="spacingAndGlyphs"><tspan fill="#f0b23c">craft_wo_table</tspan><tspan fill="#444">(</tspan><tspan fill="#4ea3e0">goal</tspan><tspan fill="#444">),</tspan></text>
<text x="1142.6" y="530" textLength="130.8" lengthAdjust="spacingAndGlyphs"><tspan fill="#f0b23c">recycle</tspan><tspan fill="#444">(</tspan><tspan fill="#e07b39">'crafting_table'</tspan><tspan fill="#444">, </tspan><tspan fill="#a9d18e">200</tspan><tspan fill="#444">),</tspan></text>
<text x="1142.6" y="542.5" textLength="37.6" lengthAdjust="spacingAndGlyphs"><tspan fill="#7030a0">yield</tspan><tspan fill="#444"> act</tspan></text>
</g>
<rect x="963.7" y="463.7" width="109.5" height="71.3" fill="#c4e4da" stroke="#4ea47e" stroke-width="2.5"/>
<text x="994.3" y="494" font-size="13.5" font-weight="bold" text-anchor="middle">Fast</text>
<text x="994.3" y="512.5" font-size="13.5" font-weight="bold" text-anchor="middle">Agent</text>
<polygon points="1042.5,474 1064.5,486.5 1064.5,511.5 1042.5,524 1020.5,511.5 1020.5,486.5" fill="#52a884"/>
<use href="#oai" x="1027.5" y="484" width="30" height="30"/>
<line x1="1073.5" y1="499.3" x2="1108" y2="499.3" stroke="#111" stroke-width="2" marker-end="url(#ak)"/>
<line x1="1303" y1="499.3" x2="1375" y2="499.3" stroke="#111" stroke-width="2" marker-end="url(#ak)"/>
<text x="1318.3" y="512" font-size="11">Interact</text>
<use href="#s_envc" x="1376.4" y="456.8" width="130.7" height="84"/>
<rect x="1376.4" y="456.8" width="130.7" height="84" fill="none" stroke="#4472c4" stroke-width="3"/>
<text x="1442.6" y="553" font-size="11" text-anchor="middle">Environment</text>
<text x="1532" y="570.5" font-size="13.5" font-weight="bold" fill="#4472c4" text-anchor="end">Direct Code Implementation</text>

<!-- ===== DECOMPOSITION ===== -->
<text x="514" y="610" font-size="19.5" textLength="586" lengthAdjust="spacingAndGlyphs">RL-GPT can reasonably decompose the task and correct how to</text>
<text x="514" y="633" font-size="19.5" textLength="515" lengthAdjust="spacingAndGlyphs">learn each sub-action through the slow iteration process.</text>

<!-- row 1 -->
<use href="#s_dirt" x="539.4" y="649.3" width="92.35" height="57.8"/>
<use href="#s_dirt" x="631.75" y="649.3" width="92.35" height="57.8"/>
<use href="#s_grass" x="751.6" y="649.3" width="92.1" height="57.8"/>
<use href="#s_grass" x="843.7" y="649.3" width="92.1" height="57.8"/>
<use href="#s_leaves" x="964.2" y="649.3" width="92.4" height="57.8"/>
<use href="#s_leaves" x="1056.6" y="649.3" width="92.4" height="57.8"/>
<!-- row 2 -->
<use href="#s_forest" x="539.4" y="746.6" width="92.35" height="57.9"/>
<use href="#s_forest" x="631.75" y="746.6" width="92.35" height="57.9"/>
<use href="#s_forest" x="751.6" y="746.6" width="92.1" height="57.9"/>
<use href="#s_forest" x="843.7" y="746.6" width="92.1" height="57.9"/>
<use href="#s_forest" x="964.2" y="746.6" width="92.4" height="57.9"/>
<use href="#s_forest" x="1056.6" y="746.6" width="92.4" height="57.9"/>
<!-- row 3 -->
<use href="#s_forest" x="539.4" y="844.6" width="92.35" height="57.8"/>
<use href="#s_forest" x="631.75" y="844.6" width="92.35" height="57.8"/>
<use href="#s_can1" x="751.6" y="844.6" width="92.1" height="57.8"/>
<use href="#s_can2" x="843.7" y="844.6" width="92.1" height="57.8"/>
<use href="#s_can2" x="964.2" y="844.6" width="92.4" height="57.8"/>
<use href="#s_can1" x="1056.6" y="844.6" width="92.4" height="57.8"/>
<!-- row 4 -->
<use href="#s_sun" x="539.4" y="942.8" width="92.35" height="57.8"/>
<use href="#s_hill" x="631.75" y="942.8" width="92.35" height="57.8"/>
<use href="#s_hill" x="751.6" y="942.8" width="92.1" height="57.8"/>
<use href="#s_can1" x="843.7" y="942.8" width="92.1" height="57.8"/>
<use href="#s_can1" x="964.2" y="942.8" width="92.4" height="57.8"/>
<use href="#s_can1" x="1056.6" y="942.8" width="92.4" height="57.8"/>

<!-- row labels -->
<g font-size="11" text-anchor="middle">
<text transform="translate(523,681) rotate(-90)">MineAgent</text>
<text transform="translate(536,681) rotate(-90)">(RL)</text>
<text transform="translate(523,778.5) rotate(-90)">RL-GPT</text>
<text transform="translate(536,778.5) rotate(-90)">(iter-0)</text>
<text transform="translate(523,877) rotate(-90)">RL-GPT</text>
<text transform="translate(536,877) rotate(-90)">(iter-1)</text>
<text transform="translate(523,975) rotate(-90)">RL-GPT</text>
<text transform="translate(536,975) rotate(-90)">(iter-3)</text>
</g>
<g font-size="13" font-weight="bold" text-anchor="middle">
<text x="737.6" y="685">...</text><text x="950.2" y="685">...</text>
<text x="737.6" y="782">...</text><text x="950.2" y="782">...</text>
<text x="950.2" y="880">...</text>
<text x="736" y="879.5" font-size="16">+</text>
<text x="736" y="977.5" font-size="16">+</text>
<text x="950.7" y="978" font-size="18">→</text>
</g>
<!-- success rates -->
<g font-size="11" font-style="italic" text-anchor="middle">
<text x="1173.7" y="665">Success</text><text x="1173.7" y="678">Rate</text>
<text x="1173.7" y="762">Success</text><text x="1173.7" y="775">Rate</text>
<text x="1173.7" y="860">Success</text><text x="1173.7" y="873">Rate</text>
<text x="1173.7" y="996">Success</text><text x="1173.7" y="1009">Rate</text>
</g>
<g font-size="14" font-style="italic" font-weight="bold" text-anchor="middle">
<text x="1173.7" y="697">10%</text><text x="1173.7" y="794">0%</text><text x="1173.7" y="892">18%</text><text x="1173.7" y="1028">58%</text>
</g>
<!-- row 1 line -->
<g stroke="#c62a2a" stroke-width="1.6">
<line x1="540.3" y1="710.7" x2="540.3" y2="724"/><line x1="1148" y1="710.7" x2="1148" y2="724"/>
<line x1="544" y1="717.1" x2="1144" y2="717.1" marker-start="url(#ar)" marker-end="url(#ar)"/>
</g>
<text x="821" y="736.5" font-size="11.5" fill="#c62a2a">RL</text>
<use href="#nn" x="841" y="721" width="23" height="23"/>
<!-- row 2 line -->
<g stroke="#7cb350" stroke-width="1.6">
<line x1="540.3" y1="808.6" x2="540.3" y2="822.2"/><line x1="1148" y1="808.6" x2="1148" y2="822.2"/>
<line x1="544" y1="815.4" x2="1144" y2="815.4" marker-start="url(#ag)" marker-end="url(#ag)"/>
</g>
<text x="790.8" y="833.5" font-size="11.5" fill="#7cb350" textLength="83.3" lengthAdjust="spacingAndGlyphs">Code: Harvest a</text>
<use href="#log" x="878" y="818.5" width="21" height="21"/>
<!-- row 3 lines -->
<g stroke="#7cb350" stroke-width="1.6">
<line x1="540.3" y1="906.2" x2="540.3" y2="919.5"/><line x1="723.6" y1="906.2" x2="723.6" y2="919.5"/>
<line x1="544" y1="912.7" x2="720" y2="912.7" marker-start="url(#ag)" marker-end="url(#ag)"/>
</g>
<g stroke="#c62a2a" stroke-width="1.6">
<line x1="752.5" y1="906.2" x2="752.5" y2="919.5"/><line x1="1148" y1="906.2" x2="1148" y2="919.5"/>
<line x1="756" y1="912.7" x2="1144" y2="912.7" marker-start="url(#ar)" marker-end="url(#ar)"/>
</g>
<text x="564.2" y="932" font-size="11.5" fill="#7cb350" textLength="113" lengthAdjust="spacingAndGlyphs">Code: Navigate to find</text>
<use href="#log" x="682.5" y="917.5" width="21" height="21"/>
<text x="796.2" y="932" font-size="11.5" fill="#c62a2a">RL</text>
<use href="#nn" x="816.7" y="915.6" width="22" height="22"/>
<text x="838" y="932" font-size="11.5" fill="#c62a2a" textLength="33" lengthAdjust="spacingAndGlyphs">: Cut a</text>
<use href="#log" x="881.6" y="917" width="21" height="21"/>
<text x="910.1" y="932" font-size="11.5" textLength="196.9" lengthAdjust="spacingAndGlyphs"><tspan fill="#222">+ </tspan><tspan fill="#7cb350">Code: Aim the tree</tspan><tspan fill="#222"> + </tspan><tspan fill="#7cb350">Attack 20 times</tspan></text>
<!-- row 4 lines -->
<g stroke="#7cb350" stroke-width="1.6">
<line x1="540.3" y1="1004.5" x2="540.3" y2="1018"/><line x1="723.6" y1="1004.5" x2="723.6" y2="1018"/>
<line x1="544" y1="1011" x2="720" y2="1011" marker-start="url(#ag)" marker-end="url(#ag)"/>
</g>
<g stroke="#c62a2a" stroke-width="1.6">
<line x1="752.5" y1="1004.5" x2="752.5" y2="1018"/><line x1="935.8" y1="1004.5" x2="935.8" y2="1018"/>
<line x1="756" y1="1011" x2="932" y2="1011" marker-start="url(#ar)" marker-end="url(#ar)"/>
<line x1="965.1" y1="1004.5" x2="965.1" y2="1018"/><line x1="1148" y1="1004.5" x2="1148" y2="1018"/>
<line x1="969" y1="1011" x2="1144" y2="1011" marker-start="url(#ar)" marker-end="url(#ar)"/>
</g>
<text x="562.8" y="1030.5" font-size="11.5" fill="#7cb350" textLength="113" lengthAdjust="spacingAndGlyphs">Code: Navigate to find</text>
<use href="#log" x="681.2" y="1016.5" width="21" height="21"/>
<text x="798.4" y="1030.5" font-size="11.5" fill="#c62a2a">RL</text>
<use href="#nn" x="818" y="1016" width="22" height="22"/>
<text x="839.5" y="1030.5" font-size="11.5" fill="#c62a2a" textLength="33" lengthAdjust="spacingAndGlyphs">: Cut a</text>
<use href="#log" x="884.8" y="1016.5" width="21" height="21"/>
<text x="971.9" y="1030.5" font-size="11.5" fill="#c62a2a">RL</text>
<use href="#nn" x="992.4" y="1016" width="22" height="22"/>
<text x="1021.4" y="1030.5" font-size="11.5" textLength="121.6" lengthAdjust="spacingAndGlyphs"><tspan fill="#222">+ </tspan><tspan fill="#7cb350">Code: Attack 20 times</tspan></text>
<!-- inset -->
<rect x="1085.4" y="951" width="24" height="24.6" fill="none" stroke="#e02020" stroke-width="1.4"/>
<line x1="1087" y1="950" x2="1150" y2="923.5" stroke="#e02020" stroke-width="1.2" stroke-dasharray="4,3"/>
<line x1="1109.4" y1="975.6" x2="1150" y2="975.6" stroke="#e02020" stroke-width="1.2" stroke-dasharray="4,3"/>
<rect x="1150" y="923" width="53" height="53" fill="#2f4a22"/>
<path d="M1150,923 H1175 L1165,940 L1150,945z" fill="#3f6230"/>
<path d="M1160,950 L1180,935 L1195,955 L1185,976 H1165z" fill="#6b5033"/>
<path d="M1162,935 L1178,930 L1184,945 L1168,950z" fill="#8a7050"/>
<rect x="1150" y="923" width="53" height="53" fill="none" stroke="#e02020" stroke-width="1.6"/>
<rect x="1184" y="958" width="13" height="13" fill="#3cb043"/>
<path d="M1186.5,964.5 L1189.5,968 L1195,961" fill="none" stroke="#fff" stroke-width="1.8"/>

<!-- ===== EXPERIMENTS ===== -->
<text x="1215" y="625" font-size="20" textLength="112" lengthAdjust="spacingAndGlyphs">Experiments</text>
<g stroke="#111">
<line x1="1222" y1="635.4" x2="1549" y2="635.4" stroke-width="1.3"/>
<line x1="1222" y1="666" x2="1549" y2="666" stroke-width="0.8"/>
<line x1="1222" y1="777" x2="1549" y2="777" stroke-width="1.3"/>
</g>
<text x="1232" y="657" class="se" font-size="15">Method</text>
<use href="#tbl" x="1379.8" y="641.7" width="20" height="20"/>
<use href="#pick" x="1425.7" y="641.7" width="20" height="20"/>
<use href="#bkt" x="1470.8" y="641.7" width="20" height="20"/>
<use href="#bed" x="1516.7" y="641.7" width="20" height="20"/>
<g class="se" font-size="15">
<text x="1232" y="684.5">Pure RL</text>
<text x="1232" y="701.5">Pure Code</text>
<text x="1232" y="718.5">Ours (Zero-shot)</text>
<text x="1232" y="735.5" textLength="125.5" lengthAdjust="spacingAndGlyphs">Ours (Iter-2 w/o SP)</text>
<text x="1232" y="752.5">Ours (Iter-2)</text>
<text x="1232" y="769.5">Ours (Iter-3)</text>
</g>
<g class="se" font-size="15" text-anchor="middle">
<text x="1389.8" y="684.5">0.00</text><text x="1435.3" y="684.5">0.00</text><text x="1480.8" y="684.5">0.00</text><text x="1526.2" y="684.5">0.00</text>
<text x="1389.8" y="701.5">0.13</text><text x="1435.3" y="701.5">0.02</text><text x="1480.8" y="701.5">0.00</text><text x="1526.2" y="701.5">0.00</text>
<text x="1389.8" y="718.5">0.26</text><text x="1435.3" y="718.5">0.53</text><text x="1480.8" y="718.5">0.79</text><text x="1526.2" y="718.5">0.32</text>
<text x="1389.8" y="735.5">0.26</text><text x="1435.3" y="735.5">0.53</text><text x="1480.8" y="735.5">0.79</text><text x="1526.2" y="735.5">0.30</text>
<text x="1389.8" y="752.5">0.56</text><text x="1435.3" y="752.5">0.67</text><text x="1480.8" y="752.5">0.88</text><text x="1526.2" y="752.5">0.30</text>
<g font-weight="bold"><text x="1389.8" y="769.5">0.65</text><text x="1435.3" y="769.5">0.67</text><text x="1480.8" y="769.5">0.93</text><text x="1526.2" y="769.5">0.32</text></g>
</g>
<g font-size="7.5" fill="#333" text-anchor="middle">
<text x="1386.8" y="789">RL-GPT outperforms its Pure RL and Pure Code counterparts.</text>
<text x="1386.8" y="798.5">Given more iterations, RL-GPT gets better results.</text>
</g>

<g stroke="#111">
<line x1="1273" y1="811.3" x2="1499" y2="811.3" stroke-width="1.3"/>
<line x1="1273" y1="841.1" x2="1499" y2="841.1" stroke-width="0.8"/>
<line x1="1273" y1="898.2" x2="1499" y2="898.2" stroke-width="1.3"/>
</g>
<text x="1282" y="831.5" class="se" font-size="15">Structure</text>
<use href="#tbl" x="1423.5" y="816.5" width="20" height="20"/>
<use href="#pick" x="1467.8" y="816.5" width="20" height="20"/>
<g class="se" font-size="15">
<text x="1282" y="858">One Agent</text>
<text x="1282" y="875">Slow + Fast</text>
<text x="1282" y="891">Slow + Fast + Critic</text>
</g>
<g class="se" font-size="15" text-anchor="middle">
<text x="1433" y="858">0.34</text><text x="1477" y="858">0.42</text>
<text x="1433" y="875">0.52</text><text x="1477" y="875">0.56</text>
<g font-weight="bold"><text x="1433" y="891">0.65</text><text x="1477" y="891">0.67</text></g>
</g>
<text x="1386.8" y="911" font-size="7.5" fill="#333" text-anchor="middle">Ablation on the agent structure.</text>

<g stroke="#111">
<line x1="1255" y1="932" x2="1517.6" y2="932" stroke-width="1.3"/>
<line x1="1255" y1="958.4" x2="1517.6" y2="958.4" stroke-width="0.8"/>
<line x1="1255" y1="1002.8" x2="1517.6" y2="1002.8" stroke-width="1.3"/>
</g>
<g class="se" font-size="15.5">
<text x="1265" y="950">Interface</text>
<text x="1373" y="950" text-anchor="middle">Success ↑</text>
<text x="1466.4" y="950" text-anchor="middle">Dead Loop ↓</text>
<text x="1265" y="976">Reward</text>
<text x="1373" y="976" text-anchor="middle">0.418</text>
<text x="1466.4" y="976" text-anchor="middle">≈0.6</text>
<text x="1265" y="994">Action</text>
<text x="1373" y="994" text-anchor="middle" font-weight="bold">0.585</text>
<text x="1466.4" y="994" text-anchor="middle" font-weight="bold">≈0.3</text>
</g>
<text x="1386.8" y="1016" font-size="7.5" fill="#333" text-anchor="middle">Ablation on the RL interfaces.</text>
</svg>
</body></html>
